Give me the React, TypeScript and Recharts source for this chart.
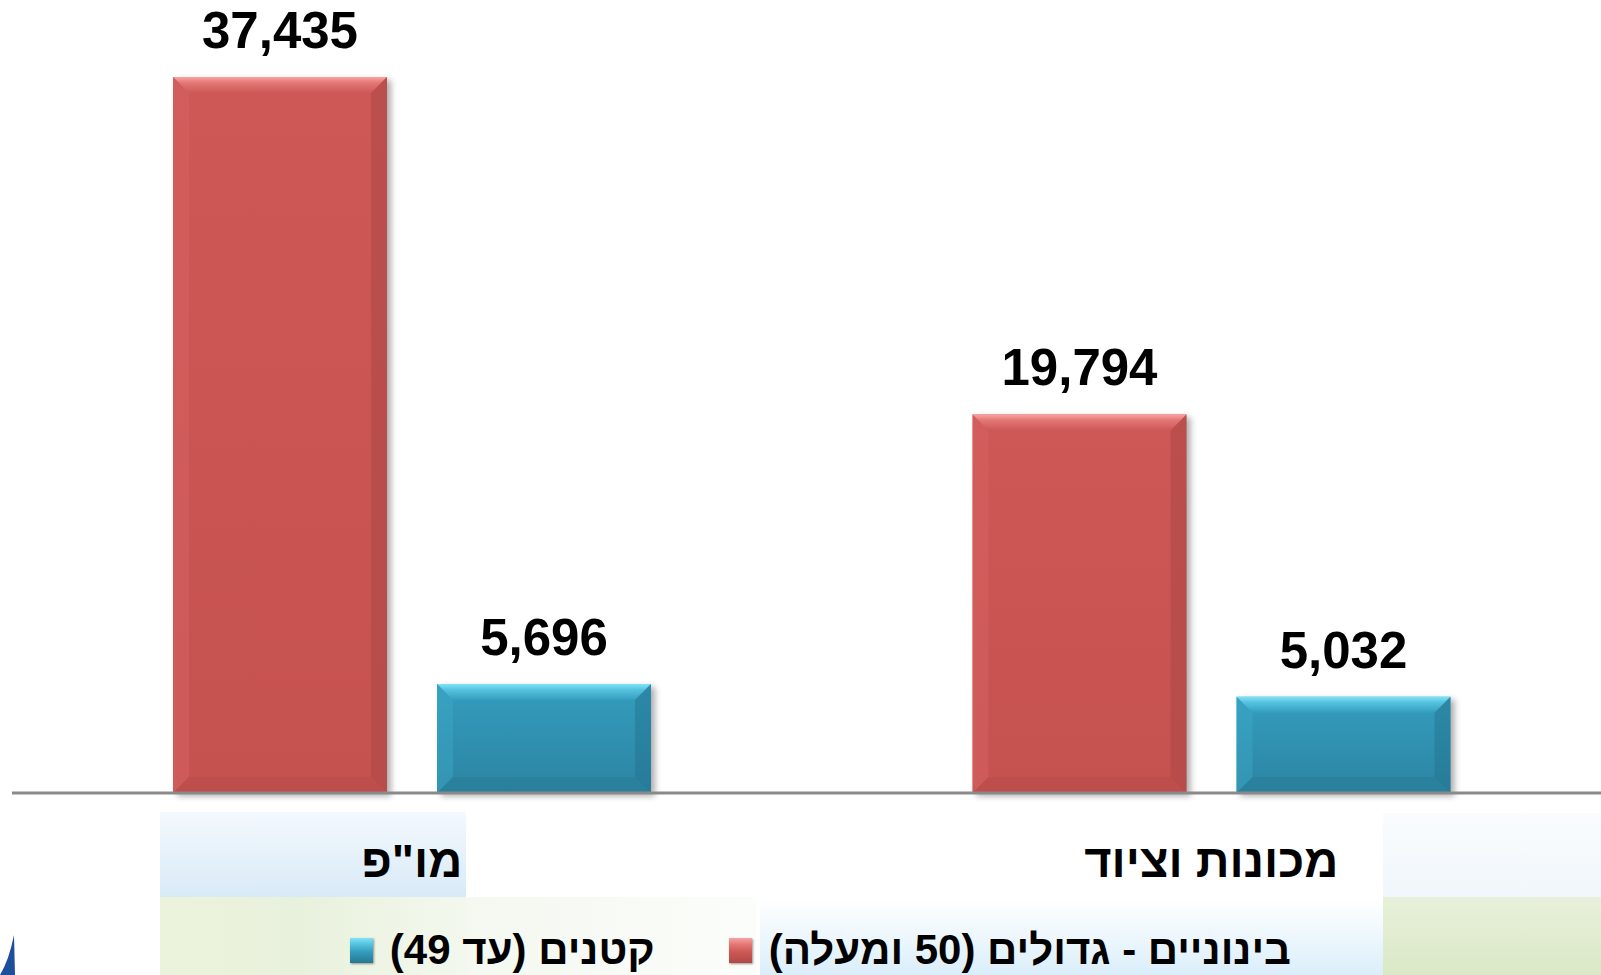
import React from 'react';
import { BarChart, Bar, XAxis, YAxis, LabelList } from 'recharts';

const categories = ['מו"פ', 'מכונות וציוד'];
const largeValues = [37435, 19794];
const smallValues = [5696, 5032];
const seriesNames = ['בינוניים - גדולים (50 ומעלה)', 'קטנים (עד 49)'];
const seriesKeys = ['large', 'small'];

const data = categories.map((c, i) => ({ name: c, large: largeValues[i], small: smallValues[i] }));

type Pal = { id: string; top: string; base: string; base2: string; topEdge: string; left: string; right: string; bottom: string };
const PAL: Record<string, Pal> = {
  large: { id: 'r', topEdge: '#F8A4A2', top: '#E47876', base: '#CD5856', base2: '#C65250', left: '#D86664', right: '#A64442', bottom: '#B04846' },
  small: { id: 'b', topEdge: '#7FE3F7', top: '#55C3DF', base: '#349DBE', base2: '#2C84A2', left: '#3EA8C8', right: '#22708B', bottom: '#267893' },
};

const FONT = '"Liberation Sans", Arial, "DejaVu Sans", sans-serif';

const BevelBar = (props: any) => {
  const { x, y, width, height, pal } = props;
  if (!height || height <= 0) return null;
  const p: Pal = pal;
  const b = Math.min(16, height / 2, width / 2);
  const gid = `g-${p.id}`;
  const tid = `t-${p.id}`;
  return (
    <g style={{ filter: 'drop-shadow(4px 3px 3px rgba(0,0,0,0.32))' }}>
      <defs>
        <linearGradient id={gid} x1="0" y1="0" x2="0" y2="1">
          <stop offset="0%" stopColor={p.base} />
          <stop offset="100%" stopColor={p.base2} />
        </linearGradient>
        <linearGradient id={tid} x1="0" y1="0" x2="0" y2="1">
          <stop offset="0%" stopColor={p.topEdge} />
          <stop offset="35%" stopColor={p.top} />
          <stop offset="100%" stopColor={p.base} />
        </linearGradient>
      </defs>
      <rect x={x} y={y} width={width} height={height} fill={`url(#${gid})`} />
      <polygon points={`${x},${y} ${x + width},${y} ${x + width - b},${y + b} ${x + b},${y + b}`} fill={`url(#${tid})`} />
      <polygon points={`${x},${y} ${x + b},${y + b} ${x + b},${y + height - b} ${x},${y + height}`} fill={p.left} opacity={0.45} />
      <polygon points={`${x + width},${y} ${x + width - b},${y + b} ${x + width - b},${y + height - b} ${x + width},${y + height}`} fill={p.right} opacity={0.45} />
      <polygon points={`${x},${y + height} ${x + b},${y + height - b} ${x + width - b},${y + height - b} ${x + width},${y + height}`} fill={p.bottom} opacity={0.4} />
    </g>
  );
};

const CatTick = (props: any) => {
  const { x, y, payload } = props;
  return (
    <text x={x} y={y} dy={84} textAnchor="middle" fontFamily={FONT} fontWeight="bold" fontSize={47} fill="#000">
      {payload.value}
    </text>
  );
};

const fmt = (v: any) => Number(v).toLocaleString('en-US');

const LegendSquare = ({ pal }: { pal: Pal }) => (
  <div
    style={{
      width: 23,
      height: 25,
      background: `linear-gradient(to bottom, ${pal.topEdge} 0%, ${pal.top} 25%, ${pal.base} 55%, ${pal.bottom} 100%)`,
      boxShadow: '1px 1px 2px rgba(0,0,0,0.4)',
      flex: '0 0 auto',
    }}
  />
);

export default function App() {
  return (
    <div style={{ position: 'fixed', left: 0, top: 0, width: 1601, height: 975, overflow: 'hidden', background: '#fff' }}>
      {/* slide background decoration */}
      <div style={{ position: 'absolute', left: 160, top: 812, width: 306, height: 86, background: 'linear-gradient(to bottom, rgba(242,248,253,0.9), rgba(216,234,247,1))' }} />
      <div style={{ position: 'absolute', left: 160, top: 897, width: 306, height: 78, background: 'linear-gradient(to right, #ecf3dc, #e8f1dc 45%, #f3f8ee 100%)' }} />
      <div style={{ position: 'absolute', left: 466, top: 897, width: 290, height: 78, background: 'linear-gradient(to right, #f4f8f0, #fbfdfa)' }} />
      <div style={{ position: 'absolute', left: 760, top: 900, width: 623, height: 75, background: 'linear-gradient(to bottom, rgba(255,255,255,0), rgba(212,235,249,0.85))' }} />
      <div style={{ position: 'absolute', left: 1383, top: 813, width: 218, height: 85, background: 'linear-gradient(to bottom, rgba(250,252,254,1), rgba(240,246,251,1))' }} />
      <div style={{ position: 'absolute', left: 1383, top: 897, width: 218, height: 78, background: 'linear-gradient(to bottom, #e8f0da, #dae8c6)' }} />
      <svg style={{ position: 'absolute', left: 0, top: 925 }} width={20} height={50}>
        <path d="M0 50 Q9 35 14 10 L15 50 Z" fill="#1E4F9C" />
      </svg>

      <div style={{ position: 'absolute', left: 0, top: 0 }}>
        <BarChart
          width={1611}
          height={975}
          data={data}
          margin={{ top: 28, right: 0, left: 12, bottom: 152 }}
          barGap={50}
        >
          <XAxis
            dataKey="name"
            height={30}
            axisLine={{ stroke: '#8a8a8a', strokeWidth: 3 }}
            tickLine={false}
            tickSize={0}
            tickMargin={0}
            tick={<CatTick />}
            interval={0}
          />
          <YAxis hide domain={[0, 40000]} />
          {seriesKeys.map((k, i) => (
            <Bar
              key={k}
              dataKey={k}
              name={seriesNames[i]}
              barSize={214}
              isAnimationActive={false}
              shape={(p: any) => <BevelBar {...p} pal={PAL[k]} />}
            >
              <LabelList
                dataKey={k}
                position="top"
                offset={29}
                formatter={fmt}
                style={{ fontFamily: FONT, fontWeight: 'bold', fontSize: 51, fill: '#000' }}
              />
            </Bar>
          ))}
        </BarChart>
      </div>

      <div
        style={{
          position: 'absolute',
          right: 310,
          top: 928,
          height: 44,
          display: 'flex',
          flexDirection: 'row',
          direction: 'rtl',
          alignItems: 'center',
          gap: 74,
          fontFamily: FONT,
          fontWeight: 'bold',
          fontSize: 42,
          color: '#000',
          whiteSpace: 'nowrap',
        }}
      >
        {seriesKeys.map((k, i) => (
          <div key={k} style={{ display: 'flex', alignItems: 'center', gap: 17, direction: 'rtl' }}>
            <span style={{ lineHeight: '44px' }}>{seriesNames[i]}</span>
            <LegendSquare pal={PAL[k]} />
          </div>
        ))}
      </div>
    </div>
  );
}
